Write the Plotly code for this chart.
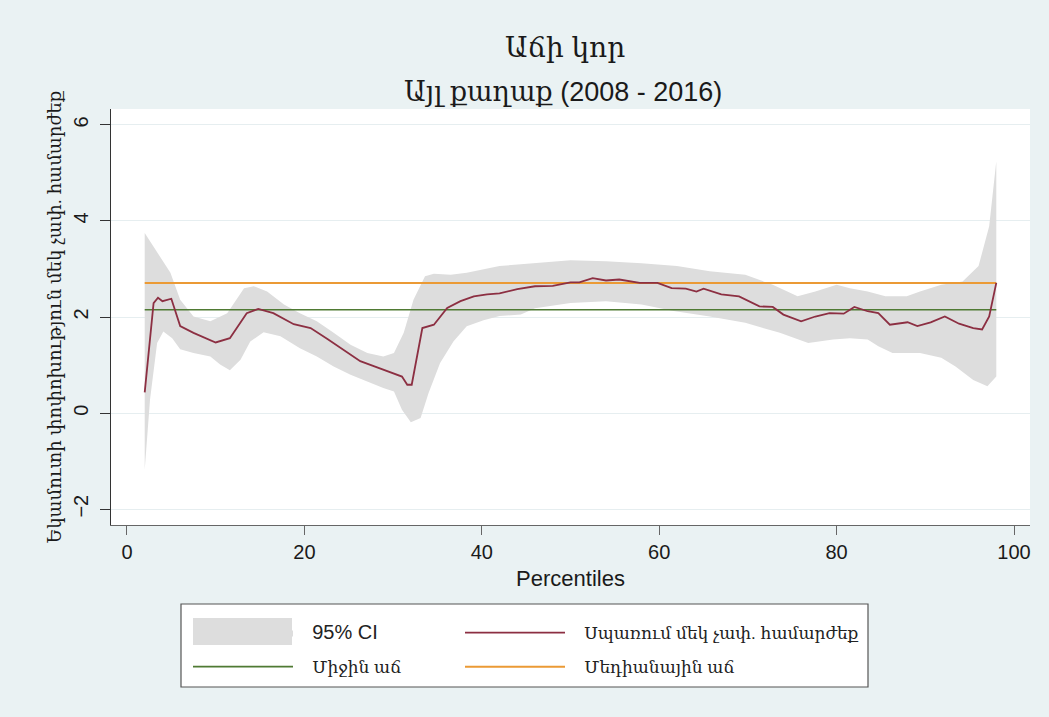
import plotly.graph_objects as go

# Percentiles and values
pct_line = [2, 3, 3.5, 4, 5, 6, 7.5, 10, 11.6, 13.5, 14.8, 16.5, 18.8, 20.7, 22.6,
            24.4, 26.3, 28.2, 30.1, 31, 31.6, 32.1, 33.3, 34.6, 36.1, 37.6, 39.1, 40.6,
            42, 44, 46, 48, 50, 51, 52.5, 54, 55.5, 57.8, 59.8, 61.4, 63, 64.2, 65, 67,
            69, 71.3, 72.8, 74, 76, 77.6, 79.2, 80.8, 82, 83.5, 84.7, 86, 88, 89.1, 90.6,
            92.2, 93.8, 95.4, 96.4, 97.2, 98]
consumption = [0.43, 2.29, 2.40, 2.33, 2.38, 1.81, 1.67, 1.47, 1.56, 2.08, 2.17, 2.08,
               1.85, 1.77, 1.54, 1.32, 1.08, 0.95, 0.83, 0.76, 0.59, 0.59, 1.77, 1.84,
               2.19, 2.33, 2.43, 2.47, 2.49, 2.58, 2.64, 2.65, 2.72, 2.72, 2.81, 2.76,
               2.78, 2.71, 2.71, 2.60, 2.59, 2.53, 2.59, 2.47, 2.43, 2.22, 2.21, 2.05,
               1.91, 2.01, 2.08, 2.07, 2.21, 2.12, 2.08, 1.84, 1.89, 1.81, 1.89, 2.01,
               1.86, 1.77, 1.74, 2.01, 2.71]

ci_upper_pct = [2, 3, 4.9, 6, 7.5, 9.4, 11.3, 13.2, 14.3, 15.8, 17.7, 19.5, 21.4, 23.3,
                25.2, 27.1, 28.9, 30.1, 31.2, 32.3, 33.6, 34.6, 36.5, 38.3, 40.2, 42,
                44.4, 46, 48, 50, 54, 58, 62, 65.7, 69.7, 72.8, 75.6, 77.6, 80, 81.5,
                83.5, 85.5, 87.9, 89.4, 91.8, 94.2, 96, 97.2, 98]
ci_upper = [3.75, 3.47, 2.92, 2.36, 2.01, 1.91, 2.08, 2.60, 2.64, 2.53, 2.26, 2.08, 1.91,
            1.67, 1.42, 1.25, 1.18, 1.25, 1.67, 2.36, 2.85, 2.90, 2.88, 2.92, 2.99, 3.06,
            3.10, 3.12, 3.15, 3.18, 3.16, 3.12, 3.06, 2.95, 2.88, 2.67, 2.43, 2.53, 2.67,
            2.60, 2.53, 2.43, 2.43, 2.53, 2.67, 2.74, 3.06, 3.89, 5.24]

ci_lower_pct = [2, 2.6, 3.4, 4.1, 5.1, 6, 7.5, 9.4, 10.5, 11.6, 12.8, 13.9, 15.4, 17.3,
                19.5, 21.4, 23.3, 25.2, 27.1, 28.9, 30.1, 31, 32, 33.1, 34, 35.3, 36.8,
                38.3, 40.2, 42, 44.4, 46, 50, 54, 58, 61.8, 65.7, 69.7, 73.6, 76.8, 79.6,
                81.5, 83.5, 84.7, 86.3, 89.4, 91.8, 93.4, 95.4, 97, 98]
ci_lower = [-1.18, 0.28, 1.46, 1.70, 1.56, 1.33, 1.25, 1.18, 1.01, 0.89, 1.11, 1.49, 1.68,
            1.60, 1.35, 1.18, 0.97, 0.80, 0.66, 0.52, 0.45, 0.07, -0.19, -0.10, 0.42, 1.04,
            1.49, 1.81, 1.93, 2.02, 2.05, 2.18, 2.29, 2.33, 2.26, 2.12, 2.01, 1.88, 1.67,
            1.46, 1.53, 1.56, 1.53, 1.39, 1.25, 1.25, 1.15, 0.97, 0.69, 0.56, 0.76]

ref_pct = [2, 98]
mean_growth = 2.15
median_growth = 2.71

FONT = "Liberation Sans, Arial, DejaVu Serif, DejaVu Sans"
BG = "#eaf2f3"
CI_COLOR = "#dddddd"
GAP = "\u00a0\u00a0\u00a0"  # extra space between legend symbol and text

# plot area in pixels: x 111..1030, y 109..525
PL, PR, PT, PB = 111, 1030, 109, 525


def px_x(v):
    return (v - PL) / (PR - PL)


def px_y(v):
    return (PB - v) / (PB - PT)


fig = go.Figure()

# 95% CI band as a closed polygon
fig.add_trace(go.Scatter(
    x=ci_upper_pct + ci_lower_pct[::-1],
    y=ci_upper + ci_lower[::-1],
    fill="toself", fillcolor=CI_COLOR, mode="lines", line=dict(width=0, color=CI_COLOR),
    name=GAP + "<span style='font-size:20px'>95% CI</span>",
    legend="legend", legendgroup="a", legendrank=1, hoverinfo="skip"))

fig.add_trace(go.Scatter(
    x=ref_pct, y=[median_growth] * len(ref_pct), mode="lines",
    line=dict(color="#eb9a35", width=2), name=GAP + "Մեդիանային աճ",
    legend="legend2", legendgroup="d", legendrank=2))

fig.add_trace(go.Scatter(
    x=ref_pct, y=[mean_growth] * len(ref_pct), mode="lines",
    line=dict(color="#4f7a33", width=1.6), name=GAP + "Միջին աճ",
    legend="legend", legendgroup="b", legendrank=2))

fig.add_trace(go.Scatter(
    x=pct_line, y=consumption, mode="lines",
    line=dict(color="#8c2f42", width=1.8), name=GAP + "Սպառում մեկ չափ. համարժեք",
    legend="legend2", legendgroup="c", legendrank=1))

legend_common = dict(orientation="v", bgcolor="rgba(0,0,0,0)", borderwidth=0,
                     font=dict(family=FONT, size=17, color="#222"),
                     itemwidth=100, tracegroupgap=9, yanchor="top", xanchor="left",
                     traceorder="grouped", itemclick=False)

fig.update_layout(
    width=1049, height=717,
    paper_bgcolor=BG, plot_bgcolor="white",
    margin=dict(l=PL, r=1049 - PR, t=PT, b=717 - PB),
    font=dict(family=FONT, color="#222"),
    xaxis=dict(range=[-1.8, 101.8], tickvals=[0, 20, 40, 60, 80, 100],
               showgrid=False, zeroline=False, showline=True, linecolor="#666",
               linewidth=1, ticks="outside", ticklen=9, tickcolor="#666",
               tickfont=dict(size=20, family=FONT, color="#1a1a1a"),
               title=dict(text="Percentiles", font=dict(size=22, family=FONT, color="#1a1a1a"),
                          standoff=8)),
    yaxis=dict(range=[-2.33, 6.33], tickvals=[-2, 0, 2, 4, 6], tickangle=-90,
               ticklabelstandoff=4,
               showgrid=True, gridcolor="#e6eef0", gridwidth=1, zeroline=False,
               showline=True, linecolor="#333", linewidth=1, ticks="outside",
               ticklen=10, tickcolor="#333",
               tickfont=dict(size=20, family=FONT, color="#1a1a1a"),
               title=dict(text="Եկամուտի փոփոխություն մեկ չափ. համարժեք",
                          font=dict(size=18, family=FONT, color="#1a1a1a"), standoff=3)),
    legend=dict(x=px_x(188), y=px_y(615), **legend_common),
    legend2=dict(x=px_x(460), y=px_y(615), **legend_common),
    shapes=[
        dict(type="rect", xref="paper", yref="paper",
             x0=px_x(181), x1=px_x(868), y0=px_y(687), y1=px_y(604),
             line=dict(color="#555", width=1.2), fillcolor="white", layer="below"),
        # larger swatch for the CI legend entry
        dict(type="rect", xref="paper", yref="paper",
             x0=px_x(193), x1=px_x(292), y0=px_y(645), y1=px_y(618),
             line=dict(width=0), fillcolor=CI_COLOR, layer="above"),
    ],
    annotations=[
        dict(text="Աճի կոր", xref="paper", yref="paper", x=px_x(565), y=px_y(47),
             xanchor="center", yanchor="middle", showarrow=False,
             font=dict(family=FONT, size=28, color="#1a1a1a")),
        dict(text="Այլ քաղաք (2008 - 2016)", xref="paper", yref="paper",
             x=px_x(563), y=px_y(92), xanchor="center", yanchor="middle", showarrow=False,
             font=dict(family=FONT, size=27, color="#1a1a1a")),
    ],
    showlegend=True,
)

fig.write_html("out.html", config={"displayModeBar": False},
               post_script="document.body.style.margin='0';")
